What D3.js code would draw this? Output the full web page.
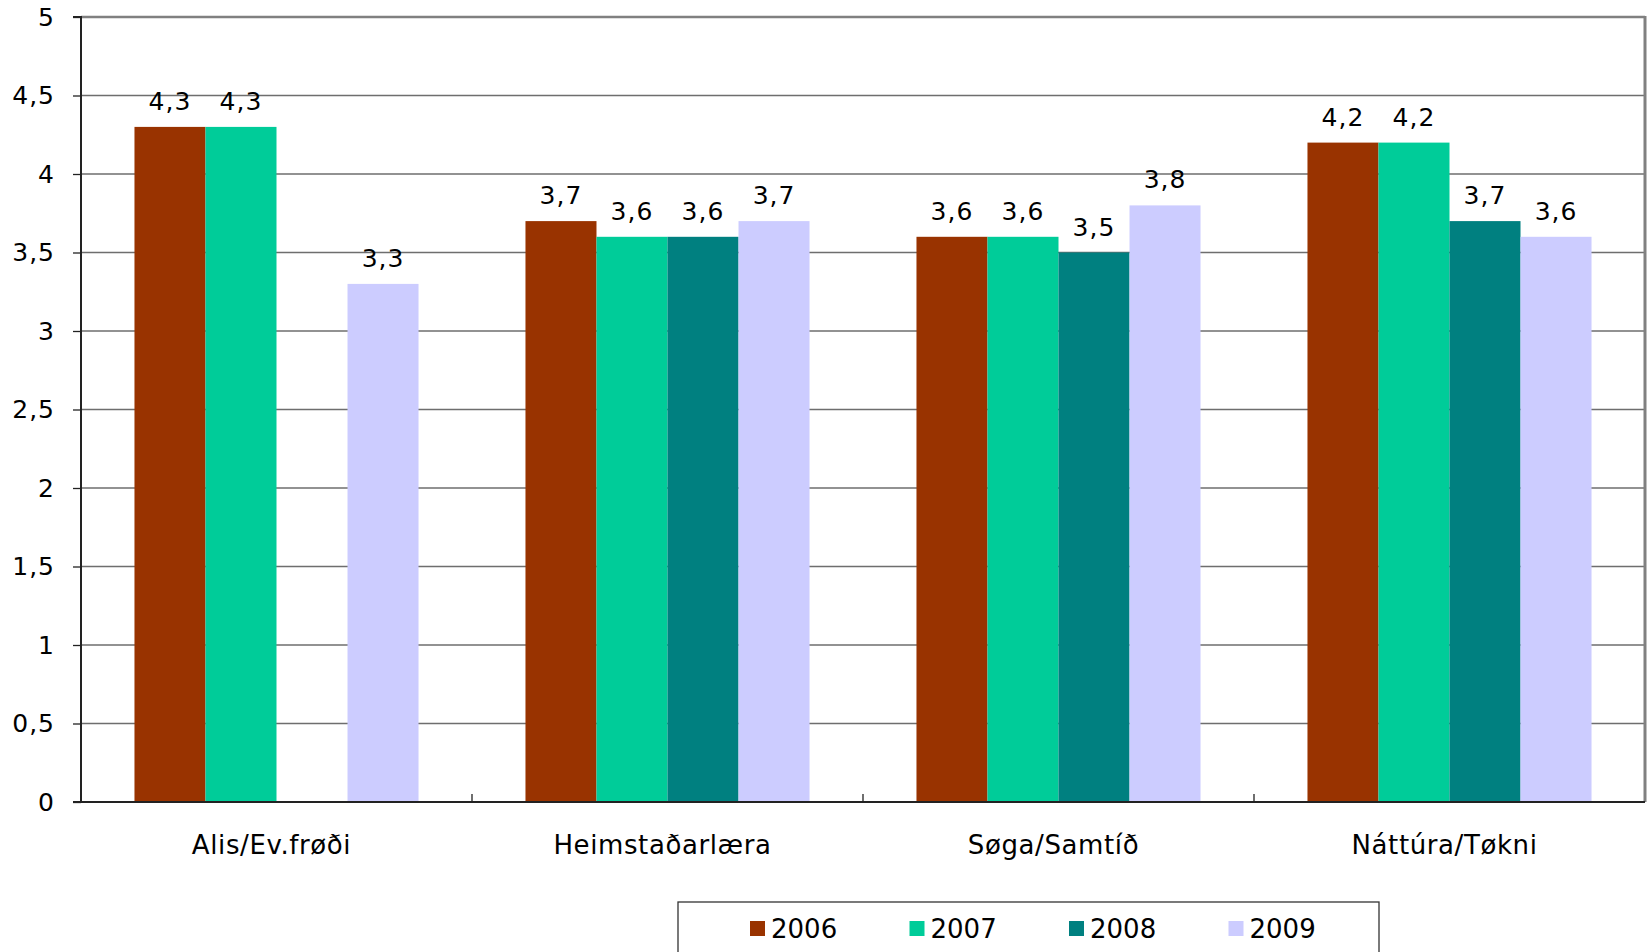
<!DOCTYPE html>
<html><head><meta charset="utf-8">
<script src="https://cdn.jsdelivr.net/npm/d3@7/dist/d3.min.js"></script>
<style>body{margin:0;background:#fff}svg{display:block}text{font-family:"DejaVu Sans",Verdana,sans-serif}</style>
</head><body>
<script>
const categories = ["Alis/Ev.frøði","Heimstaðarlæra","Søga/Samtíð","Náttúra/Tøkni"];
const years = ["2006","2007","2008","2009"];
const s2006 = [4.3,3.7,3.6,4.2];
const s2007 = [4.3,3.6,3.6,4.2];
const s2008 = [null,3.6,3.5,3.7];
const s2009 = [3.3,3.7,3.8,3.6];
const yTicks = [0,0.5,1,1.5,2,2.5,3,3.5,4,4.5,5];
const colors = ["#993300","#00CC99","#008080","#CCCCFF"];
const seriesVals = [s2006,s2007,s2008,s2009];

(function(){
const W=1648,H=952;
const pL=81,pR=1645,pT=17,pB=802;
const svg=d3.select("body").append("svg").attr("width",W).attr("height",H);
const fmt=v=>String(v).replace(".",",");

const y=d3.scaleLinear().domain([0,5]).range([pB,pT]);
const x0=d3.scaleBand().domain(categories).range([pL,pR]).paddingInner(0).paddingOuter(0);
const x1=d3.scaleBand().domain(years).range([0,x0.bandwidth()]).paddingOuter(0.753).paddingInner(0);

// gridlines
svg.append("g").selectAll("line").data(yTicks.filter(t=>t>0)).join("line")
 .attr("x1",pL).attr("x2",pR).attr("y1",d=>y(d)).attr("y2",d=>y(d))
 .attr("stroke",d=>d===5?"#808080":"#6e6e6e").attr("stroke-width",d=>d===5?2.5:1.3);
// right border
svg.append("line").attr("x1",pR).attr("x2",pR).attr("y1",pT-1).attr("y2",pB)
 .attr("stroke","#808080").attr("stroke-width",3);

// bars
const data=[];
categories.forEach((c,i)=>years.forEach((yr,j)=>{const v=seriesVals[j][i]; if(v!=null) data.push({c,yr,v,col:colors[j]});}));
svg.append("g").selectAll("rect").data(data).join("rect")
 .attr("x",d=>x0(d.c)+x1(d.yr)).attr("width",x1.bandwidth())
 .attr("y",d=>y(d.v)).attr("height",d=>y(0)-y(d.v)).attr("fill",d=>d.col);

// labels
svg.append("g").selectAll("text").data(data).join("text")
 .attr("x",d=>x0(d.c)+x1(d.yr)+x1.bandwidth()/2).attr("y",d=>y(d.v)-17)
 .attr("text-anchor","middle").attr("font-size",25).attr("letter-spacing",1).attr("fill","#000").text(d=>fmt(d.v));

// y axis
const ya=svg.append("g").attr("transform",`translate(${pL},0)`)
 .call(d3.axisLeft(y).tickValues(yTicks).tickFormat(fmt).tickSize(8).tickPadding(18));
ya.select(".domain").attr("stroke","#222").attr("stroke-width",2).attr("d",`M-8,${pT}H0V${pB}H-8`);
ya.selectAll(".tick line").attr("stroke","#222").attr("stroke-width",1.3);
ya.selectAll(".tick text").attr("font-size",25).attr("letter-spacing",1).attr("fill","#000").attr("font-family","DejaVu Sans");

// x axis
const xa=svg.append("g").attr("transform",`translate(0,${pB})`)
 .call(d3.axisBottom(x0).tickSize(0).tickPadding(34));
xa.select(".domain").attr("stroke","#222").attr("stroke-width",2).attr("d",`M${pL},0H${pR}`);
xa.selectAll(".tick text").attr("font-size",26).attr("letter-spacing",0.6).attr("dx",-5).attr("fill","#000").attr("font-family","DejaVu Sans");
svg.append("g").selectAll("line").data(categories.slice(1)).join("line")
 .attr("x1",d=>x0(d)).attr("x2",d=>x0(d)).attr("y1",pB-8).attr("y2",pB)
 .attr("stroke","#222").attr("stroke-width",1.3);

// legend
const lg=svg.append("g");
lg.append("rect").attr("x",678).attr("y",902).attr("width",701).attr("height",80)
 .attr("fill","#fff").attr("stroke","#333").attr("stroke-width",1.3);
years.forEach((yr,i)=>{
  const lx=750+i*159.5;
  lg.append("rect").attr("x",lx).attr("y",921).attr("width",15).attr("height",15).attr("fill",colors[i]);
  lg.append("text").attr("x",lx+21).attr("y",937.5).attr("font-size",26).attr("fill","#000").text(yr);
});
})();
</script>
</body></html>
